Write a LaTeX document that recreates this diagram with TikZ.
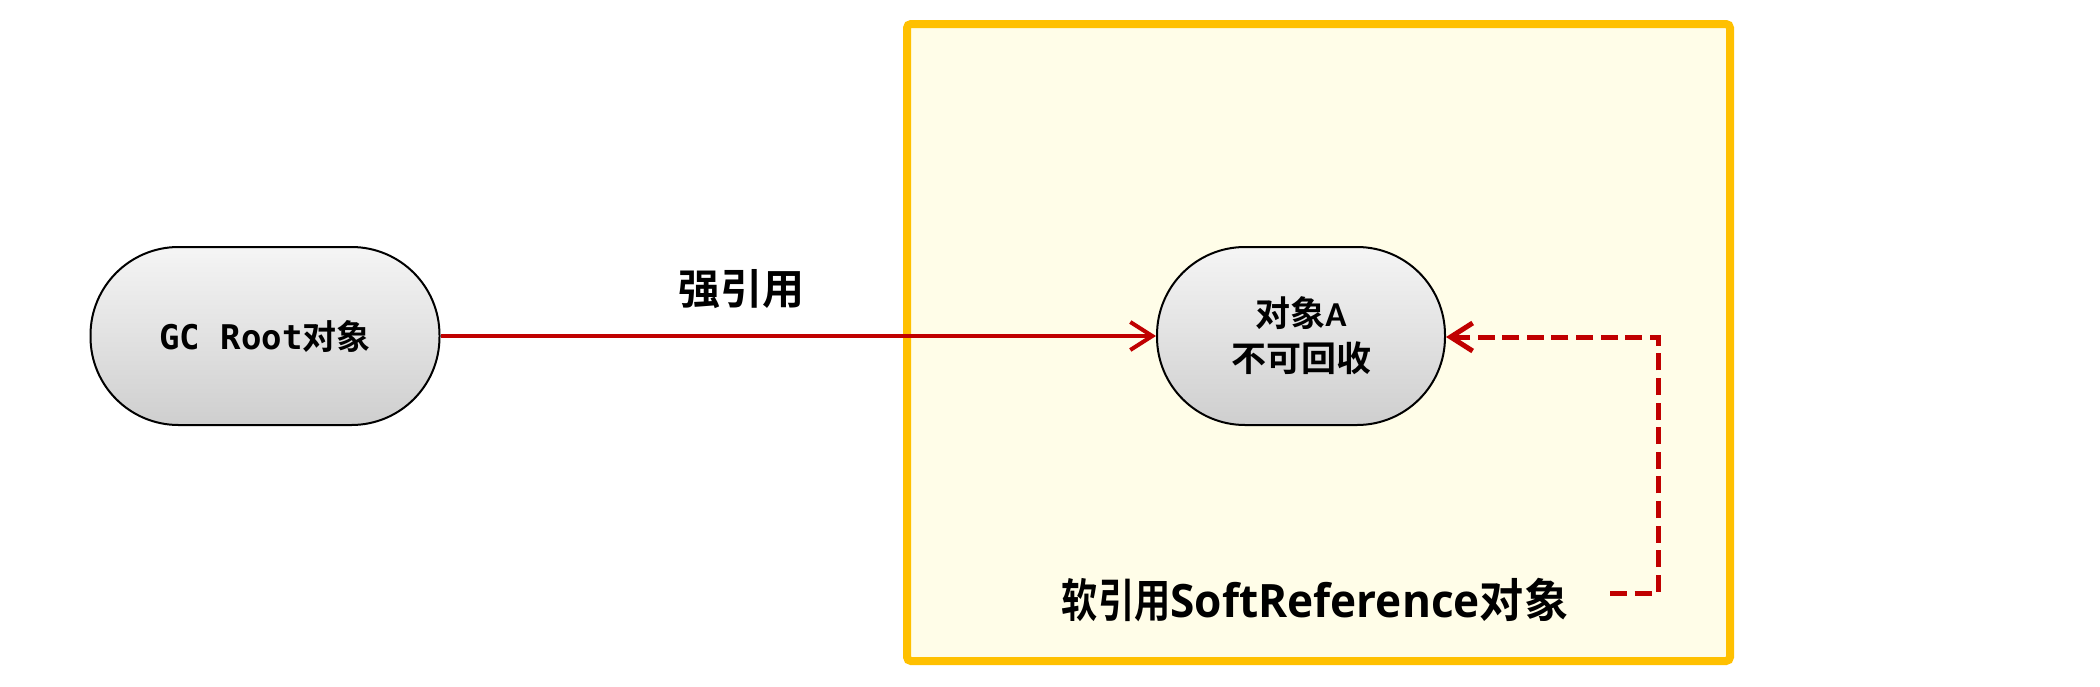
\documentclass[tikz,border=0pt]{standalone}
\usepackage{fontspec}
\setmainfont{Carlito}
\newfontfamily\cjk{Noto Sans CJK SC}[BoldFont={Noto Sans CJK SC Bold}]
\newfontfamily\monof{DejaVu Sans Mono}
\newfontfamily\opens{Open Sans}
\usetikzlibrary{arrows.meta,positioning}
\definecolor{redline}{HTML}{C00000}
\definecolor{boxedge}{HTML}{FFC000}
\definecolor{boxfill}{HTML}{FFFDE8}
\tikzset{
  pill/.style={draw=black, line width=1pt, rounded corners=44pt, inner sep=0pt,
    top color=gray!8, bottom color=gray!38, minimum height=89pt, align=center},
  strongref/.style={draw=redline, line width=2pt, -{Straight Barb[length=11pt,width=14pt,line width=2pt]}},
  softref/.style={draw=redline, line width=2.5pt, dash pattern=on 8.5pt off 3.8pt, -{Straight Barb[length=11pt,width=14pt,line width=2.5pt]}},
  lbl/.style={inner sep=0pt, font=\bfseries}
}
\begin{document}
\begin{tikzpicture}[x=0.5pt,y=-0.5pt]
\useasboundingbox (0,0) rectangle (2100,686);
\fill[white] (0,0) rectangle (2100,686);
\draw[draw=boxedge, fill=boxfill, line width=4pt, rounded corners=2pt] (907,24) rectangle (1730,661);
\node[pill, minimum width=174.5pt, font=\fontsize{17}{20}\selectfont\bfseries] (root) at (265,336) {\raisebox{-4pt}{\monof GC Root\cjk 对象}};
\node[pill, minimum width=144pt, font=\fontsize{17.5}{21.5}\selectfont\bfseries\cjk] (objA) at (1301,336) {\raisebox{0pt}[\height][0pt]{对象\rmfamily A}\\\raisebox{-1pt}{不可回收}};
\node[lbl] (strong) at (741,289) {\fontsize{21}{25}\selectfont\cjk 强引用};
\node[lbl] (soft) at (1315,600) {\scalebox{0.96}[1]{\fontsize{23}{27}\selectfont\cjk \scalebox{0.82}[1]{软引用}\opens SoftReference\cjk 对象}};
\coordinate (s0) at (1610,593);
\coordinate (s1) at (1658,593);
\coordinate (s2) at (1658,337);
\draw[strongref] (root.east) -- (objA.west);
\draw[softref] (s0) -- (s1) -- (s2) -- (objA.east |- s2);
\end{tikzpicture}
\end{document}
